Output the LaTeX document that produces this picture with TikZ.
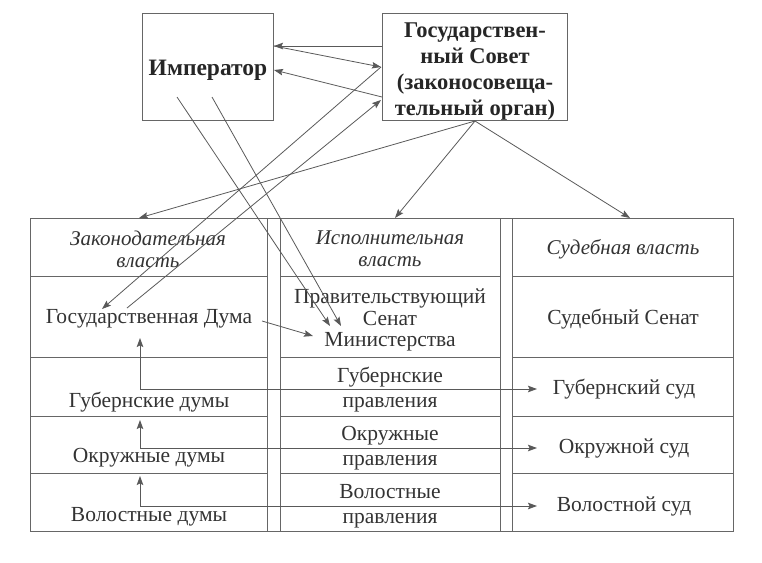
\documentclass[tikz,border=0pt]{standalone}
\usepackage{fontspec}
\setmainfont{Liberation Serif}
\usetikzlibrary{arrows.meta}
\begin{document}
\begin{tikzpicture}[x=1pt,y=-1pt,
  ln/.style={draw=black!65, line width=0.8pt},
  arr/.style={ln, -{Stealth[length=9pt,width=6.5pt,inset=1.5pt]}},
  darr/.style={ln, {Stealth[length=9pt,width=6.5pt,inset=1.5pt]}-{Stealth[length=9pt,width=6.5pt,inset=1.5pt]}},
  frame/.style={draw=black!60, line width=0.9pt},
  topbox/.style={frame, inner sep=0pt},
  toptxt/.style={inner sep=0pt, font=\fontsize{23.5}{26}\selectfont\bfseries, text=black!85, align=center},
  txt/.style={inner sep=0pt, font=\fontsize{21.5}{25}\selectfont, text=black!80, align=center},
  hd/.style={inner sep=0pt, font=\fontsize{21}{22}\selectfont\itshape, text=black!80, align=center}]
\useasboundingbox (0,0) rectangle (762,562);

% top boxes
\node[topbox, minimum width=131pt, minimum height=107pt] (imp) at (207.5,66.5) {};
\node[topbox, minimum width=185pt, minimum height=107pt] (sov) at (474.5,66.5) {};
\node[toptxt] (impt) at (208,70) {Император};
\node[toptxt, font=\fontsize{22.5}{26}\selectfont\bfseries] (sovt) at (475,72) {Государствен-\\ный Совет\\(законосовеща-\\тельный орган)};

% table frame
\draw[frame] (30,218) rectangle (733,531);
\foreach \x in {267,280,500,512} \draw[frame] (\x,218) -- (\x,531);
\foreach \y in {276,357,416,473} {
  \draw[frame] (30,\y) -- (267,\y);
  \draw[frame] (280,\y) -- (500,\y);
  \draw[frame] (512,\y) -- (733,\y);
}

% headers
\node[hd] (hl) at (148,249) {Законодательная\\власть};
\node[hd] (he) at (390,249) {Исполнительная\\власть};
\node[hd] (hj) at (623,249) {Судебная власть};

% cells
\node[txt] (duma) at (149,319) {Государственная Дума};
\node[txt, font=\fontsize{21.5}{21.5}\selectfont] (sen) at (390,320) {Правительствующий\\Сенат\\Министерства};
\node[txt] (ssen) at (623,319) {Судебный Сенат};
\node[txt] (gd) at (149,402) {Губернские думы};
\node[txt] (gp) at (390,390) {Губернские\\правления};
\node[txt] (gs) at (624,389) {Губернский суд};
\node[txt] (od) at (149,458) {Окружные думы};
\node[txt] (op) at (390,448) {Окружные\\правления};
\node[txt] (os) at (624,448) {Окружной суд};
\node[txt] (vd) at (149,517) {Волостные думы};
\node[txt] (vp) at (390,506) {Волостные\\правления};
\node[txt] (vs) at (624,506) {Волостной суд};

% connector end points
\coordinate (s1) at (382,46);  \coordinate (i1) at (274,46);
\coordinate (s2) at (381,67);
\coordinate (s3) at (382,97);  \coordinate (i3) at (274,70);
\coordinate (d1) at (102,309); \coordinate (d2) at (127,308);
\coordinate (s4) at (381,100);
\coordinate (ia) at (177,97);  \coordinate (ib) at (212,97);
\coordinate (ma) at (330,326); \coordinate (mb) at (341,326);
\coordinate (sb) at (475,121);
\coordinate (lt) at (139,218); \coordinate (et) at (395,218); \coordinate (jt) at (630,218);
\coordinate (dr) at (262,321); \coordinate (ml) at (313,336);
\coordinate (g1) at (140,338); \coordinate (gsl) at (537,389);
\coordinate (g2) at (140,420); \coordinate (osl) at (537,448);
\coordinate (g3) at (140,476); \coordinate (vsl) at (537,506);

% connectors
\draw[arr] (s1) -- (i1);
\draw[arr] (i1) -- (s2);
\draw[arr] (s3) -- (i3);
\draw[arr] (s2) -- (d1);
\draw[arr] (d2) -- (s4);
\draw[arr] (ia) -- (ma);
\draw[arr] (ib) -- (mb);
\draw[arr] (sb) -- (lt);
\draw[arr] (sb) -- (et);
\draw[arr] (sb) -- (jt);
\draw[arr] (dr) -- (ml);
\draw[darr] (g1) |- (gsl);
\draw[darr] (g2) |- (osl);
\draw[darr] (g3) |- (vsl);
\end{tikzpicture}
\end{document}
